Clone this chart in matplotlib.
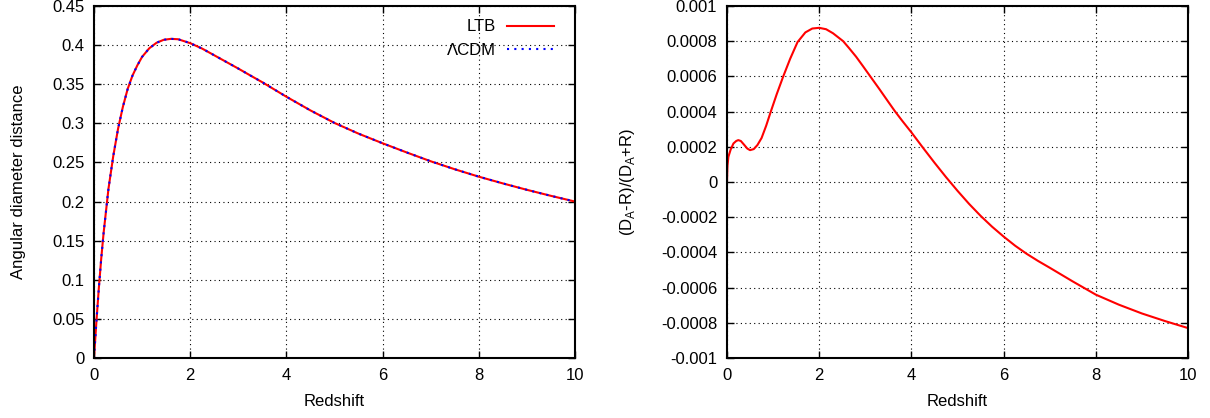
import matplotlib
matplotlib.use("Agg")
import matplotlib.pyplot as plt
from matplotlib.ticker import FuncFormatter

plt.rcParams['font.family'] = ['Liberation Sans', 'DejaVu Sans']
plt.rcParams['font.size'] = 12

# left panel: angular diameter distance
z_da = [0, 0.05, 0.1, 0.15, 0.2, 0.3, 0.4, 0.5, 0.6, 0.7, 0.8, 0.9, 1.0,
        1.15, 1.3, 1.45, 1.6, 1.75, 2.0, 2.25, 2.5, 2.75, 3.0, 3.25, 3.5,
        4.0, 4.5, 5.0, 5.5, 6.0, 6.5, 7.0, 7.5, 8.0, 8.5, 9.0, 9.5, 10.0]
da_ltb = [0, 0.0465, 0.089, 0.127, 0.160, 0.216, 0.258, 0.293, 0.321, 0.344,
          0.361, 0.374, 0.385, 0.396, 0.403, 0.4068, 0.408, 0.4075, 0.4025,
          0.3955, 0.387, 0.3785, 0.370, 0.3612, 0.3525, 0.334, 0.3165, 0.3005,
          0.2868, 0.2745, 0.2628, 0.2515, 0.2413, 0.2318, 0.2232, 0.2150,
          0.2073, 0.200]
da_lcdm = [0, 0.0465, 0.089, 0.127, 0.160, 0.216, 0.258, 0.293, 0.321, 0.344,
           0.361, 0.374, 0.385, 0.396, 0.403, 0.4068, 0.408, 0.4075, 0.4025,
           0.3955, 0.387, 0.3785, 0.370, 0.3612, 0.3525, 0.334, 0.3165, 0.3005,
           0.2868, 0.2745, 0.2628, 0.2515, 0.2413, 0.2318, 0.2232, 0.2150,
           0.2073, 0.200]

# right panel: relative difference (D_A-R)/(D_A+R), in units of 1e-4
z_rel = [0, 0.01, 0.03, 0.08, 0.14, 0.2, 0.245, 0.3, 0.37, 0.44, 0.5, 0.58,
         0.66, 0.75, 0.85, 0.95, 1.08, 1.22, 1.37, 1.53, 1.7, 1.85, 2.0,
         2.15, 2.3, 2.52, 2.65, 2.8, 2.95, 3.1, 3.3, 3.5, 3.64, 3.8, 4.0,
         4.25, 4.5, 4.75, 5.0, 5.25, 5.5, 5.75, 6.0, 6.25, 6.5, 6.75, 7.0,
         7.5, 8.0, 8.5, 9.0, 9.5, 10.0]
rel_e4 = [0, 0.9, 1.43, 1.85, 2.19, 2.33, 2.38, 2.33, 2.12, 1.9, 1.81, 1.87,
          2.1, 2.5, 3.2, 4.0, 5.0, 6.0, 7.0, 7.95, 8.5, 8.72, 8.76,
          8.68, 8.45, 8.0, 7.6, 7.12, 6.58, 6.03, 5.3, 4.55, 4.03, 3.48, 2.82,
          1.95, 1.1, 0.28, -0.5, -1.24, -1.92, -2.54, -3.1, -3.62, -4.08,
          -4.49, -4.87, -5.65, -6.4, -6.97, -7.47, -7.9, -8.3]
rel = [v * 1e-4 for v in rel_e4]

fig = plt.figure(figsize=(12.1, 4.18), dpi=100)
ax1 = fig.add_axes([94/1210, 1-358/418, (575-94)/1210, 352/418])
ax2 = fig.add_axes([727/1210, 1-358/418, (1188-727)/1210, 352/418])

fmt = FuncFormatter(lambda v, p: '%g' % round(v, 6))


def style(ax):
    ax.grid(True, color='black', linestyle=(0, (1, 3)), linewidth=0.8)
    ax.tick_params(direction='in', top=True, right=True, length=5, width=1,
                   pad=7, labelsize=12)
    for s in ax.spines.values():
        s.set_linewidth(1.5)
    ax.set_xlabel('Redshift', labelpad=8)
    ax.set_xlim(0, 10)
    ax.set_xticks([0, 2, 4, 6, 8, 10])
    ax.yaxis.set_major_formatter(fmt)


ax1.plot(z_da, da_ltb, color='#ff0000', lw=1.5, label='LTB')
ax1.plot(z_da, da_lcdm, color='#0000ff', lw=1.5, linestyle=(0, (1, 2.5)),
         label='ΛCDM')
ax1.set_ylim(0, 0.45)
ax1.set_yticks([0, 0.05, 0.1, 0.15, 0.2, 0.25, 0.3, 0.35, 0.4, 0.45])
ax1.set_ylabel('Angular diameter distance', labelpad=19)
style(ax1)
ax1.legend(loc='upper right', bbox_to_anchor=(0.967, 0.976), frameon=False,
           markerfirst=False, handlelength=2.8, handletextpad=0.7, fontsize=12,
           borderaxespad=0, borderpad=0.3, labelspacing=0.5)

ax2.plot(z_rel, rel, color='#ff0000', lw=1.5)
ax2.set_ylim(-0.001, 0.001)
ax2.set_yticks([-0.001, -0.0008, -0.0006, -0.0004, -0.0002, 0,
                0.0002, 0.0004, 0.0006, 0.0008, 0.001])
ax2.set_ylabel('(D$_{\\mathregular{A}}$-R)/(D$_{\\mathregular{A}}$+R)', labelpad=17)
style(ax2)

fig.savefig('out.png', dpi=100)
